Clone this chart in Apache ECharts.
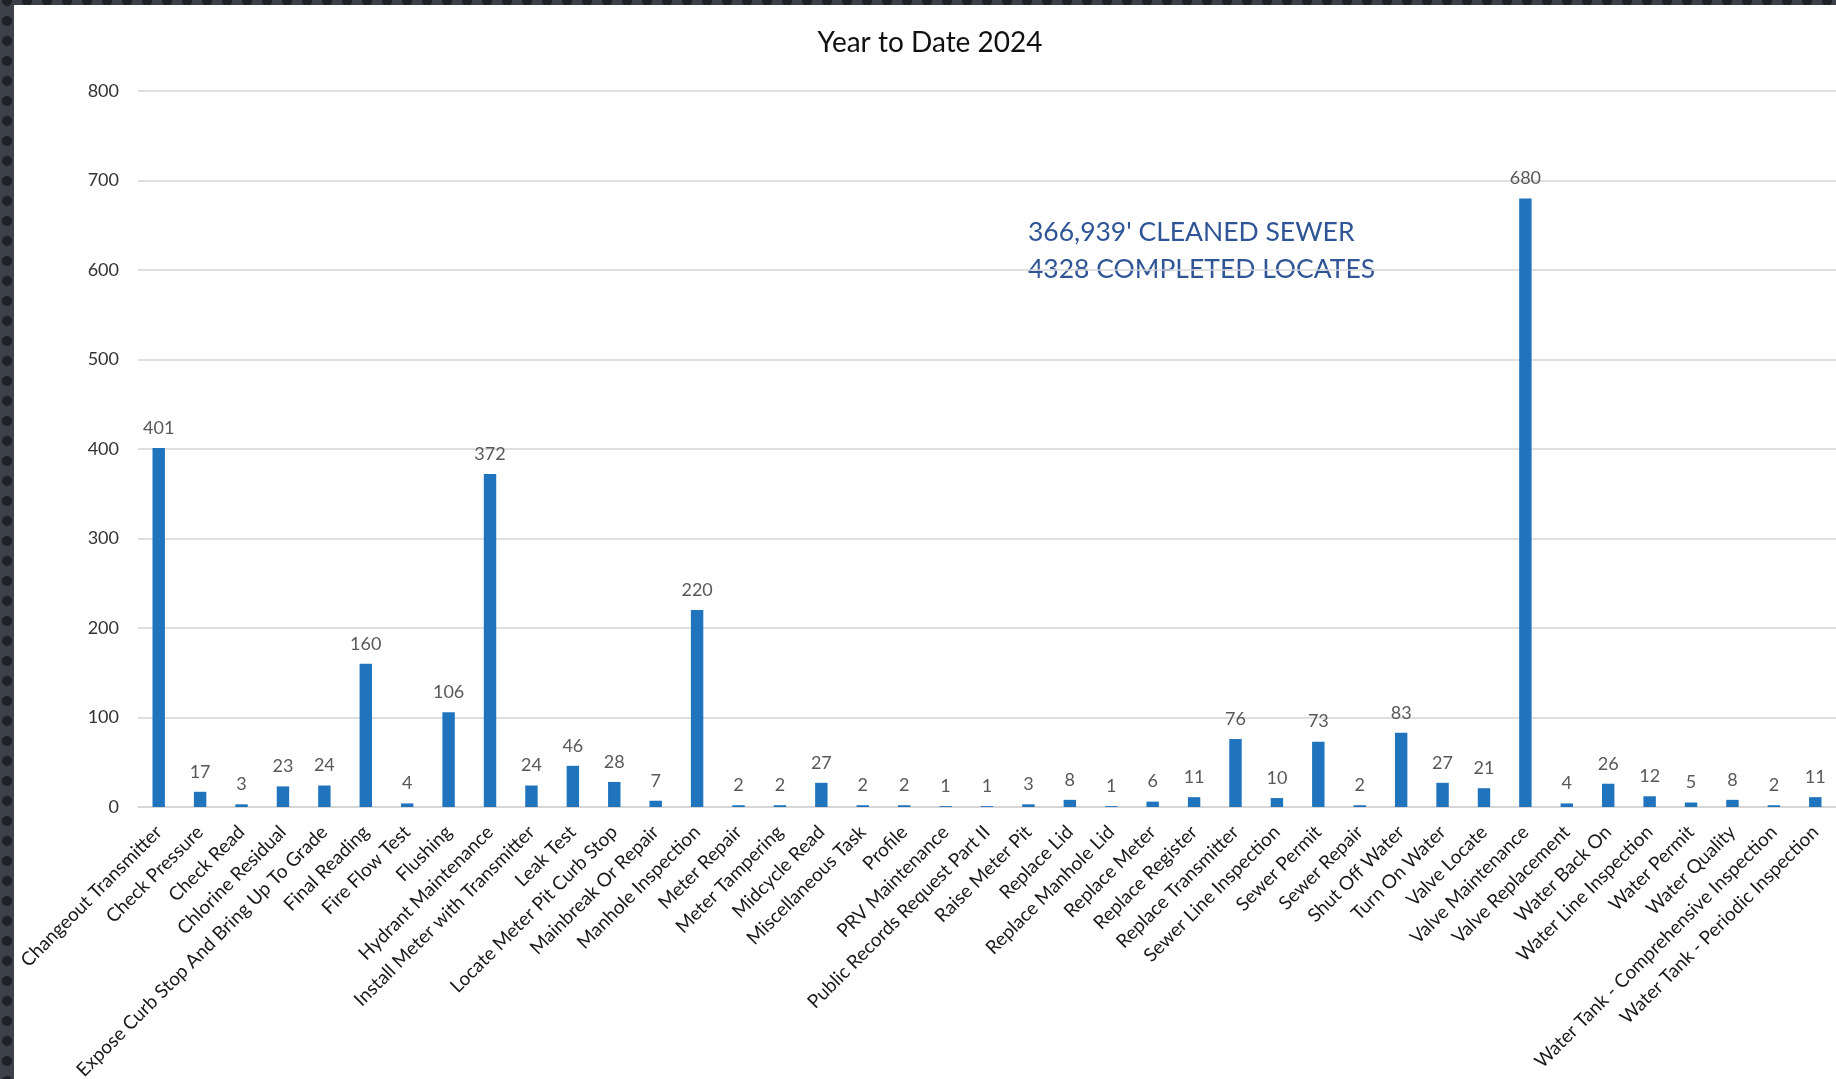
<!DOCTYPE html>
<html>
<head>
<meta charset="utf-8">
<script src="https://cdn.jsdelivr.net/npm/echarts@6/dist/echarts.min.js"></script>
<style>
  html, body { margin: 0; padding: 0; width: 1836px; height: 1079px; overflow: hidden; }
  body {
    background-color: #3d4149;
    background-image: radial-gradient(circle, #1e2227 0, #1e2227 4.5px, transparent 5.5px);
    background-size: 20px 20px;
    background-position: -3px -9px;
  }
  #chart { position: absolute; left: 14px; top: 5px; width: 1822px; height: 1074px; background: #ffffff; }
</style>
</head>
<body>
<div id="chart"></div>
<script>
// Work orders completed, year to date
const categories = [
  'Changeout Transmitter', 'Check Pressure', 'Check Read', 'Chlorine Residual',
  'Expose Curb Stop And Bring Up To Grade', 'Final Reading', 'Fire Flow Test', 'Flushing',
  'Hydrant Maintenance', 'Install Meter with Transmitter', 'Leak Test', 'Locate Meter Pit Curb Stop',
  'Mainbreak Or Repair', 'Manhole Inspection', 'Meter Repair', 'Meter Tampering',
  'Midcycle Read', 'Miscellaneous Task', 'Profile', 'PRV Maintenance',
  'Public Records Request Part II', 'Raise Meter Pit', 'Replace Lid', 'Replace Manhole Lid',
  'Replace Meter', 'Replace Register', 'Replace Transmitter', 'Sewer Line Inspection',
  'Sewer Permit', 'Sewer Repair', 'Shut Off Water', 'Turn On Water',
  'Valve Locate', 'Valve Maintenance', 'Valve Replacement', 'Water Back On',
  'Water Line Inspection', 'Water Permit', 'Water Quality',
  'Water Tank - Comprehensive Inspection', 'Water Tank - Periodic Inspection'
];
const counts = [
  401, 17, 3, 23,
  24, 160, 4, 106,
  372, 24, 46, 28,
  7, 220, 2, 2,
  27, 2, 2, 1,
  1, 3, 8, 1,
  6, 11, 76, 10,
  73, 2, 83, 27,
  21, 680, 4, 26,
  12, 5, 8,
  2, 11
];
const yTicks = { min: 0, max: 800, interval: 100 };
const titleText = 'Year to Date 2024';
const noteLines = ["366,939' CLEANED SEWER", '4328 COMPLETED LOCATES'];

const FONT = 'Lato, "Open Sans", sans-serif';
const chart = echarts.init(document.getElementById('chart'), null, { renderer: 'canvas' });

chart.setOption({
  backgroundColor: '#ffffff',
  animation: false,
  title: {
    text: titleText,
    left: 916,
    textAlign: 'center',
    top: 24,
    padding: 0,
    textStyle: { fontFamily: FONT, fontSize: 28, fontWeight: 'normal', color: '#111111' }
  },
  grid: {
    left: 124, right: 0, top: 86, bottom: 272,
    containLabel: false,
    outerBoundsMode: 'none'
  },
  xAxis: {
    type: 'category',
    data: categories,
    axisLine: { show: true, lineStyle: { color: '#d4d4d4', width: 1.5 } },
    axisTick: { show: false },
    axisLabel: {
      interval: 0,
      rotate: 45,
      margin: 22,
      fontFamily: FONT,
      fontSize: 19,
      color: '#1a1a1a'
    }
  },
  yAxis: {
    type: 'value',
    min: yTicks.min,
    max: yTicks.max,
    interval: yTicks.interval,
    axisLine: { show: false },
    axisTick: { show: false },
    splitLine: { lineStyle: { color: '#d4d4d4', width: 1.5 } },
    axisLabel: { margin: 19, fontFamily: FONT, fontSize: 18, color: '#333333' }
  },
  series: [{
    type: 'bar',
    data: counts,
    barWidth: '30%',
    itemStyle: { color: '#1f74bd' },
    label: {
      show: true,
      position: 'top',
      distance: 11,
      fontFamily: FONT,
      fontSize: 18,
      color: '#595959'
    }
  }],
  graphic: noteLines.map((line, i) => ({
    type: 'text',
    left: 1014,
    top: 214 + i * 37,
    style: { text: line, font: '26.5px ' + FONT, fill: '#2f5597' }
  }))
});
</script>
</body>
</html>
